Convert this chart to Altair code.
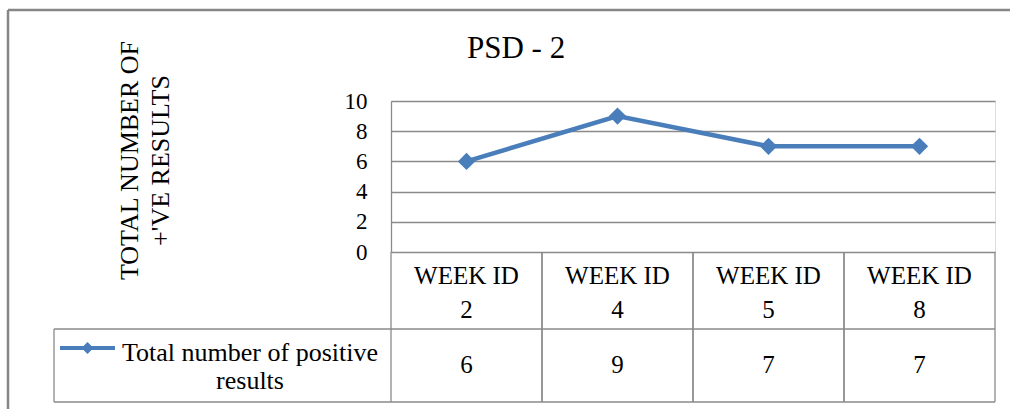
import json
import altair as alt
import pandas as pd

# ---- data ----
TITLE = "PSD - 2"
Y_TITLE = ["TOTAL NUMBER OF", "+'VE RESULTS"]
WEEK_IDS = [2, 4, 5, 8]
POSITIVE = [6, 9, 7, 7]
SERIES = "Total number of positive results"
Y_TICKS = [0, 2, 4, 6, 8, 10]

# ---- layout / style ----
FONT = "Liberation Serif"
BLUE = "#4A7EBB"
GRID = "#8a8a8a"
W, H = 604, 151
PAD = {"left": 391, "top": 101, "right": 15, "bottom": 157}

weeks = [f"WEEK ID {w}" for w in WEEK_IDS]
df = pd.DataFrame({"week": weeks, "value": POSITIVE,
                   "series": [SERIES] * len(WEEK_IDS)})
one = pd.DataFrame({"a": [0]})

# table header row drawn as two-line x-axis labels
js_weeks = json.dumps(weeks)
js_ids = json.dumps([str(w) for w in WEEK_IDS])
x_label_expr = f"['WEEK ID', {js_ids}[indexof({js_weeks}, datum.value)]]"

xscale = alt.Scale(type="band", domain=weeks, paddingInner=0, paddingOuter=0)
xaxis = alt.Axis(
    title=None, domain=False, ticks=False, tickSize=0, grid=False,
    labelExpr=x_label_expr, labelFont=FONT, labelFontSize=25,
    labelColor="black", labelLineHeight=34, labelBaseline="alphabetic",
    labelAlign="center", labelPadding=31, labelOverlap=False,
    labelFlush=False, labelLimit=0, labelAngle=0,
)
X = alt.X("week:N", scale=xscale, axis=xaxis, sort=weeks)

yaxis = alt.Axis(
    values=Y_TICKS, grid=True, gridColor=GRID, gridWidth=1.3,
    ticks=False, tickSize=0, labelPadding=24, labelOverlap=False,
    labelFont=FONT, labelFontSize=23, labelColor="black",
    domain=True, domainColor=GRID, domainWidth=1.3,
    title=Y_TITLE, titleFont=FONT, titleFontSize=26,
    titleFontWeight="normal", titleColor="black",
    titleAngle=270, titleAlign="center", titleBaseline="middle",
    titleLineHeight=31, titleX=-262, titleY=59,
)
Y = alt.Y("value:Q", scale=alt.Scale(domain=[0, 10], nice=False, zero=True),
          axis=yaxis)

# legend key: line with a diamond, drawn a little above the label's middle
KEY_PATH = ("M-1,-0.237L1,-0.237L1,-0.091L-1,-0.091Z "
            "M0,-0.384L0.22,-0.164L0,0.056L-0.22,-0.164Z")
legend = alt.Legend(
    title=None, orient="none", legendX=-331, legendY=224, padding=0,
    symbolType=KEY_PATH, symbolSize=3025, symbolStrokeWidth=0,
    symbolFillColor=BLUE, symbolOpacity=1,
    labelFont=FONT, labelFontSize=26, labelColor="black",
    labelAlign="center", labelBaseline="middle",
    labelOffset=135, labelLimit=0,
    labelExpr=("[slice(datum.label, 0, lastindexof(datum.label, ' ')), "
               "slice(datum.label, lastindexof(datum.label, ' ') + 1)]"),
)
C = alt.Color("series:N", scale=alt.Scale(range=[BLUE]), legend=legend)

base = alt.Chart(df)
line = base.mark_line(strokeWidth=4.5).encode(x=X, y=Y, color=C)
points = base.mark_point(shape="diamond", filled=True, size=300,
                         opacity=1).encode(x=X, y=Y, color=C)

# value row of the data table
values = base.mark_text(font=FONT, fontSize=25, color="black",
                        fontWeight="normal", baseline="alphabetic").encode(
    x=X, y=alt.value(272), text="value:Q")

# table cell borders
vlines0 = base.mark_rule(color=GRID, strokeWidth=1.3).encode(
    x=alt.X("week:N", scale=xscale, axis=xaxis, sort=weeks, bandPosition=0),
    y=alt.value(151), y2=alt.value(301))
vlines1 = base.mark_rule(color=GRID, strokeWidth=1.3).encode(
    x=alt.X("week:N", scale=xscale, axis=xaxis, sort=weeks, bandPosition=1),
    y=alt.value(151), y2=alt.value(301))

deco = alt.Chart(one)
hline_mid = deco.mark_rule(color=GRID, strokeWidth=1.6).encode(
    x=alt.value(-337), x2=alt.value(W), y=alt.value(228))
hline_bot = deco.mark_rule(color=GRID, strokeWidth=1.3).encode(
    x=alt.value(-337), x2=alt.value(W), y=alt.value(301))
legend_left = deco.mark_rule(color=GRID, strokeWidth=1.3).encode(
    x=alt.value(-337), y=alt.value(228), y2=alt.value(301))

# outer chart frame
frame_top = deco.mark_rule(color="#868686", strokeWidth=2.5).encode(
    x=alt.value(-383), x2=alt.value(640), y=alt.value(-91))
frame_left = deco.mark_rule(color="#868686", strokeWidth=2.5).encode(
    x=alt.value(-383), y=alt.value(-91), y2=alt.value(320))

chart = alt.layer(
    line, points, values, vlines0, vlines1,
    hline_mid, hline_bot, legend_left, frame_top, frame_left,
).properties(
    width=W, height=H,
    padding=PAD,
    autosize=alt.AutoSizeParams(type="none"),
    title=alt.TitleParams(TITLE, font=FONT, fontSize=31, fontWeight="normal",
                          color="black", anchor="start", frame="group",
                          dx=76, baseline="alphabetic", offset=-80),
).configure_view(stroke=None).configure_axis(
    labelOverlap=False, labelFont=FONT, titleFont=FONT
).configure_legend(labelFont=FONT).configure(background="white", font=FONT)

chart.save("out.html", embed_options={"renderer": "svg", "actions": False})
